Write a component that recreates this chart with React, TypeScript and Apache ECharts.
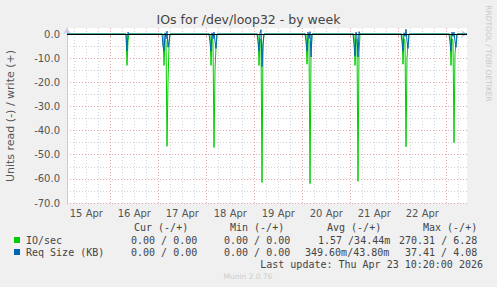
import { useEffect, useRef } from 'react';
import * as echarts from 'echarts';

// ---- data (times are UTC, 30-minute resolution) ----
const rangeStart = '04-15 02:20';
const rangeEnd = '04-23 10:20';
const dayLabelDays = [15, 16, 17, 18, 19, 20, 21, 22];
const yLabelValues = [0, -10, -20, -30, -40, -50, -60, -70];

// IO/sec : read (-) / write (+)
const ioSecPoints: [string, number][] = [
  ['04-15 02:20', 0],
  ['04-16 07:50', 0], ['04-16 08:20', -13], ['04-16 08:50', -3], ['04-16 09:20', 0],
  ['04-17 02:20', 0], ['04-17 02:50', -13], ['04-17 03:20', -2], ['04-17 03:50', -3], ['04-17 04:20', -46.5], ['04-17 04:50', -20], ['04-17 05:20', -5], ['04-17 05:50', 0],
  ['04-18 01:50', 0], ['04-18 02:20', -13], ['04-18 02:50', -2], ['04-18 03:20', -3], ['04-18 03:50', -47], ['04-18 04:20', -15], ['04-18 04:50', -5], ['04-18 05:20', 0],
  ['04-19 01:50', 0], ['04-19 02:20', -13], ['04-19 02:50', -3], ['04-19 03:20', -2], ['04-19 03:50', -61.5], ['04-19 04:20', -5], ['04-19 04:50', 0],
  ['04-20 01:50', 0], ['04-20 02:20', -12.5], ['04-20 02:50', -2], ['04-20 03:20', -3], ['04-20 03:50', -62], ['04-20 04:20', -10], ['04-20 04:50', 0],
  ['04-21 01:50', 0], ['04-21 02:20', -13], ['04-21 02:50', -2], ['04-21 03:20', -3], ['04-21 03:50', -61], ['04-21 04:20', -8], ['04-21 04:50', 0],
  ['04-22 01:50', 0], ['04-22 02:20', -12.5], ['04-22 02:50', -2], ['04-22 03:20', -3], ['04-22 03:50', -46.7], ['04-22 04:20', -10], ['04-22 04:50', -4], ['04-22 05:20', 0],
  ['04-23 01:50', 0], ['04-23 02:20', -13], ['04-23 02:50', -2], ['04-23 03:20', -3], ['04-23 03:50', -45], ['04-23 04:20', -8], ['04-23 04:50', -4], ['04-23 05:20', 0],
  ['04-23 10:20', 0],
];

// Req Size (KB) : read (-) / write (+)
const reqSizePoints: [string, number][] = [
  ['04-15 02:20', 0],
  ['04-16 07:50', 0], ['04-16 08:20', -7], ['04-16 08:50', 0.8], ['04-16 09:20', 0],
  ['04-17 01:50', 0], ['04-17 02:20', -5], ['04-17 02:50', -7], ['04-17 03:20', 0.5], ['04-17 03:50', -2], ['04-17 04:20', 1.2], ['04-17 04:50', -5.5], ['04-17 05:20', -3], ['04-17 05:50', 0],
  ['04-18 01:20', 0], ['04-18 01:50', -3], ['04-18 02:20', -7], ['04-18 02:50', 0.5], ['04-18 03:20', -2], ['04-18 03:50', 0.8], ['04-18 04:20', -3], ['04-18 04:50', -6], ['04-18 05:20', 0],
  ['04-19 01:20', 0], ['04-19 01:50', -3], ['04-19 02:20', -7], ['04-19 02:50', 0.5], ['04-19 03:20', 1.8], ['04-19 03:50', -13.5], ['04-19 04:20', -4], ['04-19 04:50', 0],
  ['04-20 01:20', 0], ['04-20 01:50', -3], ['04-20 02:20', -7], ['04-20 02:50', 0.8], ['04-20 03:20', -2], ['04-20 03:50', 1], ['04-20 04:20', -9.5], ['04-20 04:50', 0],
  ['04-21 01:20', 0], ['04-21 01:50', -4], ['04-21 02:20', -9], ['04-21 02:50', 0.8], ['04-21 03:20', -1], ['04-21 03:50', -9.5], ['04-21 04:20', 1], ['04-21 04:50', 0],
  ['04-22 01:20', 0], ['04-22 01:50', -3], ['04-22 02:20', -7], ['04-22 02:50', 0.5], ['04-22 03:20', -1], ['04-22 03:50', 2], ['04-22 04:20', -3], ['04-22 04:50', -6], ['04-22 05:20', 0],
  ['04-23 01:20', 0], ['04-23 01:50', -3], ['04-23 02:20', -7], ['04-23 02:50', 0.8], ['04-23 03:20', -1], ['04-23 03:50', 0.8], ['04-23 04:20', -3], ['04-23 04:50', -5.5], ['04-23 05:20', 0],
  ['04-23 10:20', 0],
];

const legendNames = ['IO/sec', 'Req Size (KB)'];
const legendColors = ['#00cc00', '#0066b3'];
const tableHeaders = ['Cur (-/+)', 'Min (-/+)', 'Avg (-/+)', 'Max (-/+)'];
const ioSecStats = ['0.00 / 0.00', '0.00 / 0.00', '1.57 /34.44m', '270.31 / 6.28'];
const reqSizeStats = ['0.00 / 0.00', '0.00 / 0.00', '349.60m/43.80m', '37.41 / 4.08'];
const lastUpdate = 'Last update: Thu Apr 23 10:20:00 2026';

const ts = (s: string) =>
  Date.UTC(2026, +s.slice(0, 2) - 1, +s.slice(3, 5), +s.slice(6, 8), +s.slice(9, 11));

export default function App() {
  const ref = useRef<HTMLDivElement>(null);
  useEffect(() => {
    if (!ref.current) return;
    const chart = echarts.init(ref.current, undefined, { renderer: 'svg' });
    const xMin = ts(rangeStart);
    const xMax = ts(rangeEnd);
    const H = 3600 * 1000;

    const vGrid: any[] = [];
    for (let t = Date.UTC(2026, 3, 15, 0); t <= xMax; t += 6 * H) {
      if (t <= xMin) continue;
      const midnight = new Date(t).getUTCHours() === 0;
      vGrid.push({
        xAxis: t,
        lineStyle: { color: midnight ? '#e4a8a8' : '#d4d4d4', type: [1, 2], width: 1 },
      });
    }
    const noonValues = dayLabelDays.map((d) => Date.UTC(2026, 3, d, 12));
    const midnightValues = dayLabelDays.map((d) => Date.UTC(2026, 3, d + 1, 0)).filter((t) => t < xMax);

    const mono = 'DejaVu Sans Mono';
    const txt = (x: number, y: number, text: string, extra: any = {}) => ({
      type: 'text',
      x,
      y,
      style: { text, fill: '#444', font: `10px "${mono}"`, textVerticalAlign: 'middle', ...extra },
    });
    const colX = [134, 230, 327, 423];
    const ioX = [131, 224, 318, 399];
    const reqX = [131, 224, 305, 405];

    chart.setOption({
      animation: false,
      backgroundColor: '#f0f0f0',
      grid: {
        left: 67,
        right: 30,
        top: 28,
        bottom: 84,
        show: true,
        backgroundColor: '#ffffff',
        borderWidth: 0,
      },
      xAxis: {
        type: 'value',
        min: xMin,
        max: xMax,
        splitLine: { show: false },
        axisLine: {
          show: true,
          lineStyle: { color: '#c8c8ee', width: 1 },
          symbol: ['none', 'arrow'],
          symbolSize: [6, 6],
        },
        axisTick: {
          show: true,
          customValues: midnightValues,
          length: 3,
          lineStyle: { color: '#e4a8a8' },
        },
        axisLabel: {
          customValues: noonValues,
          formatter: (v: number) => `${new Date(v).getUTCDate()} Apr`,
          color: '#555',
          fontFamily: 'DejaVu Sans',
          fontSize: 10,
          margin: 5,
        },
      },
      yAxis: {
        type: 'value',
        min: -70,
        max: 2.5,
        interval: 5,
        axisLine: {
          show: true,
          lineStyle: { color: '#c8c8ee', width: 1 },
          symbol: ['none', 'arrow'],
          symbolSize: [6, 6],
        },
        axisTick: { show: false },
        axisLabel: {
          formatter: (v: number) => (yLabelValues.includes(v) ? v.toFixed(1) : ''),
          color: '#555',
          fontFamily: 'DejaVu Sans',
          fontSize: 10,
          margin: 7,
        },
        splitLine: {
          show: true,
          showMaxLine: false,
          lineStyle: { color: ['#e4a8a8', '#d4d4d4'], type: [1, 2], width: 1 },
        },
      },
      series: [
        {
          type: 'line',
          z: 1,
          data: [],
          markLine: { silent: true, symbol: 'none', label: { show: false }, data: vGrid },
        },
        {
          name: legendNames[0],
          type: 'line',
          z: 3,
          showSymbol: false,
          lineStyle: { color: legendColors[0], width: 1 },
          itemStyle: { color: legendColors[0] },
          data: ioSecPoints.map(([t, v]) => [ts(t), v]),
        },
        {
          name: legendNames[1],
          type: 'line',
          z: 4,
          showSymbol: false,
          lineStyle: { color: legendColors[1], width: 1 },
          itemStyle: { color: legendColors[1] },
          data: reqSizePoints.map(([t, v]) => [ts(t), v]),
        },
        {
          type: 'line',
          z: 5,
          data: [],
          markLine: {
            silent: true,
            symbol: 'none',
            label: { show: false },
            data: [{ yAxis: 0, lineStyle: { color: '#000', type: 'solid', width: 1 } }],
          },
        },
      ],
      graphic: [
        {
          type: 'text',
          x: 248.5,
          y: 19,
          style: {
            text: 'IOs for /dev/loop32 - by week',
            fill: '#444',
            font: '12.5px "DejaVu Sans"',
            textAlign: 'center',
            textVerticalAlign: 'middle',
          },
        },
        {
          type: 'text',
          x: 10,
          y: 116,
          rotation: Math.PI / 2,
          style: {
            text: 'Units read (-) / write (+)',
            fill: '#555',
            font: '11px "DejaVu Sans"',
            textAlign: 'center',
            textVerticalAlign: 'middle',
          },
        },
        {
          type: 'text',
          x: 488,
          y: 53.5,
          rotation: -Math.PI / 2,
          style: {
            text: 'RRDTOOL / TOBI OETIKER',
            fill: '#c8c8c8',
            font: '7.5px "DejaVu Sans"',
            textAlign: 'center',
            textVerticalAlign: 'middle',
          },
        },
        ...tableHeaders.map((h, i) => txt(colX[i], 227, h)),
        { type: 'rect', shape: { x: 14, y: 237, width: 6, height: 6 }, style: { fill: legendColors[0] } },
        { type: 'rect', shape: { x: 14, y: 249, width: 6, height: 6 }, style: { fill: legendColors[1] } },
        txt(26, 240, legendNames[0]),
        txt(26, 252, legendNames[1]),
        ...ioSecStats.map((s, i) => txt(ioX[i], 240, s)),
        ...reqSizeStats.map((s, i) => txt(reqX[i], 252, s)),
        txt(483, 264, lastUpdate, { textAlign: 'right' }),
        {
          type: 'text',
          x: 248,
          y: 276,
          style: {
            text: 'Munin 2.0.76',
            fill: '#cccccc',
            font: '7.5px "DejaVu Sans"',
            textAlign: 'center',
            textVerticalAlign: 'middle',
          },
        },
      ],
    });
    return () => chart.dispose();
  }, []);
  return <div ref={ref} style={{ width: 497, height: 287, position: 'fixed', left: 0, top: 0 }} />;
}
